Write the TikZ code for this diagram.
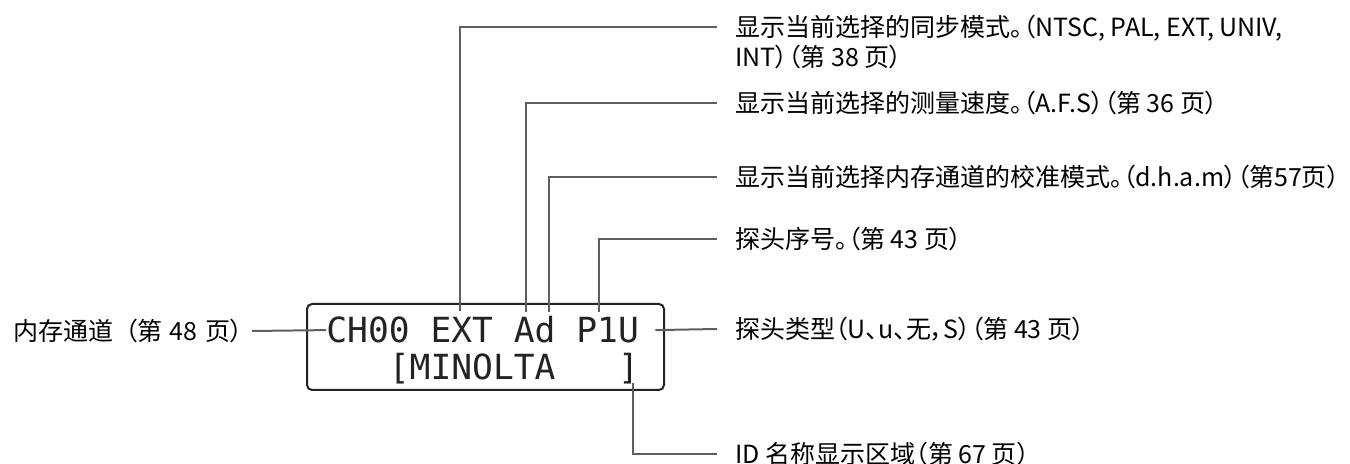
\documentclass[tikz,border=0pt]{standalone}
\usepackage{fontspec}
\newfontfamily\cjk[RawFeature=+palt]{Noto Sans CJK SC}
\newfontfamily\lcdfont{DejaVu Sans Mono}
\usetikzlibrary{positioning}
\definecolor{leadgray}{RGB}{95,95,95}
\definecolor{lcdgray}{RGB}{35,35,35}

\begin{document}
\begin{tikzpicture}[x=0.5pt,y=-0.5pt,lbl/.style={font=\cjk\fontsize{12.5}{15}\selectfont,align=left,inner xsep=9pt,inner ysep=0pt,anchor=west},lcdrow/.style={font=\lcdfont\fontsize{17.3}{20}\selectfont,inner sep=0pt,anchor=base west,text=lcdgray},lead/.style={draw=leadgray,line width=1pt}]
\useasboundingbox (0,0) rectangle (1350,464);
\node[draw=lcdgray,line width=1pt,rounded corners=2.5pt,minimum width=178.5pt,minimum height=43pt](lcd) at (485.5,347){};
\node[lcdrow](row1) at (326,343){CH00 EXT Ad P1U};
\node[lcdrow](row2) at (326,380){~~~[MINOLTA~~~]};
\node[lbl,inner xsep=0pt,anchor=east](lblMem) at (243,331){内存通道\hspace{.45em}（第\hspace{.3em}48\hspace{.3em}页）};
\node[lbl](lblSync) at (717,42){显示当前选择的同步模式。（NTSC, PAL, EXT, UNIV,\\INT）（第 38 页）};
\node[lbl](lblSpeed) at (717,103){显示当前选择的测量速度。（A.F.S）（第 36 页）};
\node[lbl](lblCal) at (717,177){显示当前选择内存通道的校准模式。（d.h.a.m）（第57页）};
\node[lbl](lblProbe) at (717,239){探头序号。（第 43 页）};
\node[lbl](lblType) at (717,329){探头类型（U、u、无，S）（第 43 页）};
\node[lbl](lblId) at (717,454){ID 名称显示区域（第 67 页）};
\coordinate(pinExt) at (460,311);\coordinate(pinA) at (526,312);\coordinate(pinD) at (549,312);\coordinate(pinP) at (599,312);\coordinate(pinId) at (633,383);
\draw[lead]([xshift=4.5pt]lblMem.east)--(row1.west);\draw[lead]([xshift=8pt]row1.east)--(lblType.west);
\draw[lead](pinExt)|-([yshift=7.5pt]lblSync.west);\draw[lead](pinA)|-(lblSpeed.west);\draw[lead](pinD)|-(lblCal.west);\draw[lead](pinP)|-(lblProbe.west);\draw[lead](pinId)|-(lblId.west);
\end{tikzpicture}
\end{document}
